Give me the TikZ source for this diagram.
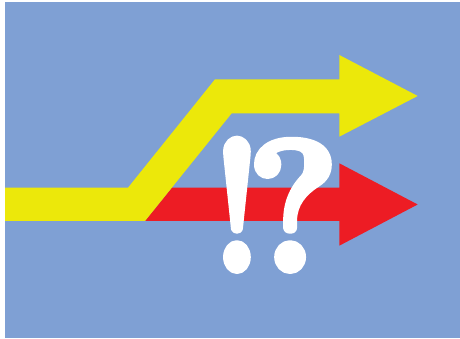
\documentclass[tikz,border=0pt]{standalone}
\usepackage{xcolor}
\usepackage{tikz}
\definecolor{sky}{HTML}{7FA0D4}
\definecolor{lemon}{HTML}{ECE80A}
\definecolor{signal}{HTML}{ED1C24}
\newcommand{\heavy}[1]{\special{pdf:literal direct 2 Tr 7 w 1 j}#1\special{pdf:literal direct 0 Tr}}

\begin{document}
\begin{tikzpicture}[
  x=1pt, y=1pt,
  bg/.style={fill=sky, draw=none},
  lane/.style={draw=none},
  sign/.style={text=white, inner sep=0pt, anchor=base, xscale=0.82,
               font=\fontsize{186}{186}\selectfont\bfseries}
]
  \useasboundingbox (0,0) rectangle (460,339);
  \fill[bg] (5,1) rectangle (460,337);

  % the straight path
  \fill[lane, fill=signal] (145,118) -- (171.8,151.3) -- (339.3,151.3) -- (339.3,175.7)
    -- (417.7,134.5) -- (339.3,93.3) -- (339.3,118) -- cycle;

  % the path that turns off
  \fill[lane, fill=lemon] (5,151.3) -- (128,151.3) -- (215,259.7) -- (339.3,259.7)
    -- (339.3,284) -- (417.7,243) -- (339.3,202.3) -- (339.3,225.7) -- (231.7,225.7)
    -- (145,118) -- (5,118) -- cycle;

  \node[sign] (bang) at (237,68.5) {\heavy{!}};
  \node[sign, xscale=1.15] (query) at (293,68.5) {\heavy{?}};
\end{tikzpicture}
\end{document}
